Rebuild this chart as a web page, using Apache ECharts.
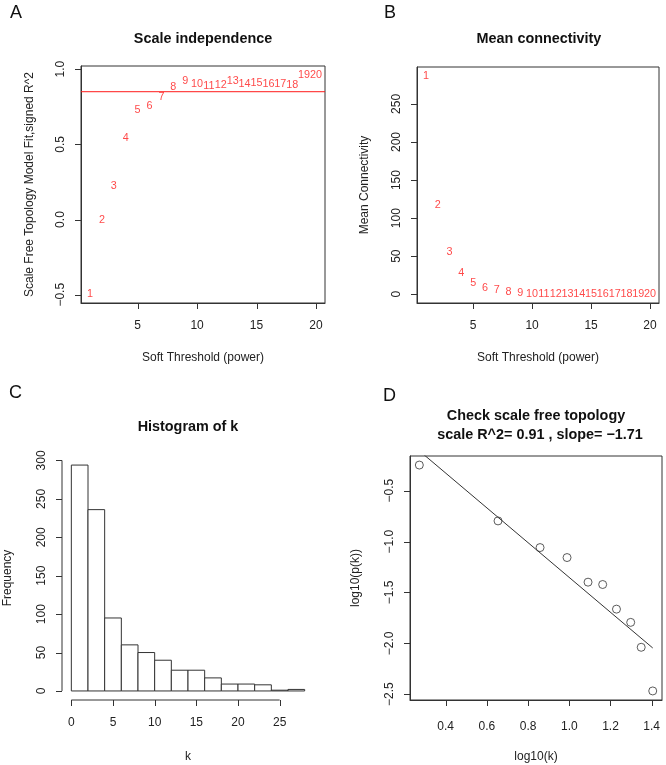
<!DOCTYPE html>
<html><head><meta charset="utf-8">
<script src="https://cdn.jsdelivr.net/npm/echarts@6/dist/echarts.min.js"></script>
<style>html,body{margin:0;padding:0;background:#fff}#c{width:666px;height:765px}</style>
</head><body><div id="c"></div>
<script>
// ---- Data ----
const powers = [1,2,3,4,5,6,7,8,9,10,11,12,13,14,15,16,17,18,19,20];
const scaleFitR2 = [-0.497,-0.003,0.225,0.543,0.725,0.752,0.815,0.881,0.919,0.903,0.885,0.892,0.919,0.903,0.905,0.903,0.903,0.897,0.963,0.959];
const r2Cutoff = 0.85;
const meanConnectivity = [286.8,117,55.8,28,15,8.4,5.3,3.1,1.8,0.9,0.6,0.5,0.4,0.3,0.2,0.2,0.1,0.1,0.1,0.1];
const binEdges = [0,2,4,6,8,10,12,14,16,18,20,22,24,26,28];
const binCounts = [294,236,95,60,50,40,27,27,17,9,9,8,1,2];
const logK = [0.272,0.654,0.858,0.989,1.091,1.162,1.229,1.298,1.349,1.405];
const logPk = [-0.248,-0.797,-1.059,-1.157,-1.399,-1.422,-1.664,-1.794,-2.039,-2.468];
const fitSlope = -1.71, fitIntercept = 0.357;
// tick labels
const ticksAX = [5,10,15,20], ticksAY = [-0.5,0,0.5,1.0];
const ticksBX = [5,10,15,20], ticksBY = [0,50,100,150,200,250];
const ticksCX = [0,5,10,15,20,25], ticksCY = [0,50,100,150,200,250,300];
const ticksDX = [0.4,0.6,0.8,1.0,1.2,1.4], ticksDY = [-2.5,-2.0,-1.5,-1.0,-0.5];
// axis extents (R style, 4% padding)
const limAX = [0.24, 20.76], limAY = [-0.555, 1.021];
const limBX = [0.24, 20.76], limBY = [-11.5, 298.5];
const limCX = [-1.12, 29.12], limCY = [-11.76, 305.8];
const limDX = [0.2267, 1.450], limDY = [-2.557, -0.159];

// ---- Styles ----
const FONT = '"Liberation Sans", Arial, Helvetica, sans-serif';
const INK = '#222';
const AXC = '#333';
const RED = '#ff1a1a';
const TICK = 6;
const fmt1 = v => v.toFixed(1).replace('-', '\u2212');
const fmt0 = v => String(v);

function xAx(grid, lim, ticks, name, f, lineVisible, margin, gap) {
  return {
    type: 'value', gridIndex: grid, min: lim[0], max: lim[1],
    name, nameLocation: 'middle', nameGap: gap,
    nameTextStyle: {fontFamily: FONT, fontSize: 12, color: INK},
    axisLine: {show: lineVisible, onZero: false, lineStyle: {color: AXC}},
    splitLine: {show: false},
    axisTick: {show: false},
    axisLabel: {show: true, customValues: ticks, margin, formatter: f, fontFamily: FONT, fontSize: 12, color: INK}
  };
}
function yAx(grid, lim, ticks, name, f, gap, lineVisible) {
  return {
    type: 'value', gridIndex: grid, min: lim[0], max: lim[1],
    name, nameLocation: 'middle', nameGap: gap, nameRotate: 90,
    nameTextStyle: {fontFamily: FONT, fontSize: 12, color: INK},
    axisLine: {show: lineVisible, onZero: false, lineStyle: {color: AXC}},
    splitLine: {show: false},
    axisTick: {show: false},
    axisLabel: {show: true, customValues: ticks, rotate: 90, margin: 14, formatter: f, fontFamily: FONT, fontSize: 12, color: INK}
  };
}
// outward R-style tick marks at the plot-region edge
function xTicks(grid, ticks, yLim) {
  return {type: 'custom', xAxisIndex: grid, yAxisIndex: grid, clip: false, silent: true, z: 4,
    data: ticks.map(v => [v, yLim[0]]),
    renderItem: (params, api) => {
      const p = api.coord([api.value(0), api.value(1)]);
      const x = Math.round(p[0]) + 0.5;
      return {type: 'line', shape: {x1: x, y1: p[1], x2: x, y2: p[1] + TICK}, style: {stroke: AXC, lineWidth: 1}};
    }};
}
function yTicks(grid, ticks, xLim) {
  return {type: 'custom', xAxisIndex: grid, yAxisIndex: grid, clip: false, silent: true, z: 4,
    data: ticks.map(v => [xLim[0], v]),
    renderItem: (params, api) => {
      const p = api.coord([api.value(0), api.value(1)]);
      const y = Math.round(p[1]) + 0.5;
      return {type: 'line', shape: {x1: p[0] - TICK, y1: y, x2: p[0], y2: y}, style: {stroke: AXC, lineWidth: 1}};
    }};
}
function ttl(text, x, y, size, bold) {
  return {text, left: x, top: y, textAlign: bold === 'l' ? 'left' : 'center',
    textStyle: {fontFamily: FONT, fontSize: size, fontWeight: bold === true ? 'bold' : 'normal', color: '#111'}, padding: 0};
}
function segment(grid, pts, color) {
  return {type: 'line', xAxisIndex: grid, yAxisIndex: grid, symbol: 'none', clip: false, silent: true,
    lineStyle: {color, width: 1}, data: pts, z: 3};
}

const box = {show: true, borderColor: AXC, borderWidth: 1, backgroundColor: 'transparent'};
const option = {
  animation: false,
  backgroundColor: '#fff',
  title: [
    ttl('A', 10, 4, 18, 'l'), ttl('B', 384, 4, 18, 'l'), ttl('C', 9, 384, 18, 'l'), ttl('D', 383, 387, 18, 'l'),
    ttl('Scale independence', 203, 32, 14.4, true),
    ttl('Mean connectivity', 539, 32, 14.4, true),
    ttl('Histogram of k', 188, 420, 14.4, true),
    ttl('Check scale free topology', 536, 409, 14.4, true),
    ttl('scale R^2= 0.91 , slope= \u22121.71', 540, 428, 14.4, true)
  ],
  grid: [
    Object.assign({left: 81, top: 66, width: 244, height: 237}, box),
    Object.assign({left: 417, top: 67, width: 242, height: 236}, box),
    {left: 62, top: 456, width: 252, height: 244, show: false},
    Object.assign({left: 410, top: 456, width: 252, height: 244}, box)
  ],
  xAxis: [
    xAx(0, limAX, ticksAX, 'Soft Threshold (power)', fmt0, true, 17, 49),
    xAx(1, limBX, ticksBX, 'Soft Threshold (power)', fmt0, true, 17, 49),
    xAx(2, limCX, ticksCX, 'k', fmt0, false, 17, 51),
    xAx(3, limDX, ticksDX, 'log10(k)', fmt1, true, 21, 51)
  ],
  yAxis: [
    yAx(0, limAY, ticksAY, 'Scale Free Topology Model Fit,signed R^2', fmt1, 45, true),
    yAx(1, limBY, ticksBY, 'Mean Connectivity', fmt0, 46, true),
    yAx(2, limCY, ticksCY, 'Frequency', fmt0, 48, false),
    yAx(3, limDY, ticksDY, 'log10(p(k))', fmt1, 48, true)
  ],
  series: [
    {
      type: 'scatter', xAxisIndex: 0, yAxisIndex: 0, symbolSize: 1,
      itemStyle: {color: 'transparent'},
      data: powers.map((p, i) => [p, scaleFitR2[i]]),
      label: {show: true, position: 'inside', formatter: q => String(q.value[0]), color: RED, fontFamily: FONT, fontSize: 10.8}
    },
    // abline(h = r2Cutoff) across the plot region
    segment(0, [[limAX[0], r2Cutoff], [limAX[1], r2Cutoff]], RED),
    {
      type: 'scatter', xAxisIndex: 1, yAxisIndex: 1, symbolSize: 1,
      itemStyle: {color: 'transparent'},
      data: powers.map((p, i) => [p, meanConnectivity[i]]),
      label: {show: true, position: 'inside', formatter: q => String(q.value[0]), color: RED, fontFamily: FONT, fontSize: 10.8}
    },
    {
      type: 'custom', xAxisIndex: 2, yAxisIndex: 2,
      data: binCounts.map((c, i) => [binEdges[i], binEdges[i + 1], c]),
      renderItem: (params, api) => {
        const p0 = api.coord([api.value(0), 0]);
        const p1 = api.coord([api.value(1), api.value(2)]);
        return {type: 'rect', shape: {x: p0[0], y: p1[1], width: p1[0] - p0[0], height: p0[1] - p1[1]},
          style: {fill: '#fff', stroke: AXC, lineWidth: 1}};
      }
    },
    // R-style axis lines for the histogram, spanning first..last tick
    segment(2, [[ticksCX[0], limCY[0]], [ticksCX[ticksCX.length - 1], limCY[0]]], AXC),
    segment(2, [[limCX[0], ticksCY[0]], [limCX[0], ticksCY[ticksCY.length - 1]]], AXC),
    {
      type: 'scatter', xAxisIndex: 3, yAxisIndex: 3, symbol: 'circle', symbolSize: 8,
      itemStyle: {color: 'rgba(255,255,255,0)', borderColor: AXC, borderWidth: 1},
      data: logK.map((x, i) => [x, logPk[i]])
    },
    {
      type: 'line', xAxisIndex: 3, yAxisIndex: 3, symbol: 'none', clip: true, silent: true,
      lineStyle: {color: AXC, width: 1},
      data: [Math.min(...logK), Math.max(...logK)].map(x => [x, fitIntercept + fitSlope * x])
    },
    xTicks(0, ticksAX, limAY), yTicks(0, ticksAY, limAX),
    xTicks(1, ticksBX, limBY), yTicks(1, ticksBY, limBX),
    xTicks(2, ticksCX, limCY), yTicks(2, ticksCY, limCX),
    xTicks(3, ticksDX, limDY), yTicks(3, ticksDY, limDX)
  ]
};
const chart = echarts.init(document.getElementById('c'), null, {renderer: 'canvas'});
chart.setOption(option);
</script></body></html>
